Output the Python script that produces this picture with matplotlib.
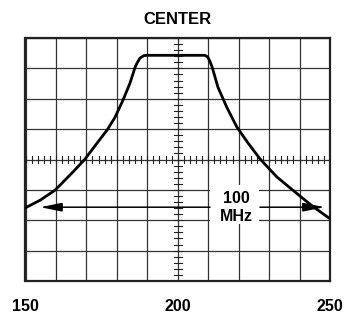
import numpy as np
import matplotlib
matplotlib.use("Agg")
import matplotlib.pyplot as plt
from matplotlib.patches import Rectangle

# frequency axis (MHz) and response in screen divisions (0 = bottom, 8 = top)
freq = [149.8, 154.8, 159.7, 165.6, 169.5, 173.5, 176.8, 179.4, 182.0, 184.3,
        186.0, 186.6, 187.6, 188.9, 189.9,
        200, 208.9, 209.8, 210.5, 211.3, 213.2, 216.1, 219.4, 223.1, 227.1,
        232.6, 240.1, 244.4, 250]
resp = [2.40, 2.66, 2.99, 3.59, 4.01, 4.54, 4.97, 5.39, 5.95, 6.51,
        7.04, 7.17, 7.34, 7.42, 7.43,
        7.43, 7.43, 7.38, 7.25, 7.04, 6.38, 5.72, 5.07, 4.54, 4.01,
        3.42, 2.80, 2.45, 2.05]

xlabels = ['150', '200', '250']
marker_text = '100\nMHz'
marker_level = 2.43

plt.rcParams['font.family'] = ['Liberation Sans', 'DejaVu Sans']

fig = plt.figure(figsize=(3.48, 3.14), dpi=100)
ax = fig.add_axes([25.5 / 348, 1 - 281 / 314, 304.5 / 348, 243 / 314])
ax.set_xlim(150, 250)
ax.set_ylim(0, 8)

# graticule
xt = np.arange(150, 251, 10)
ax.set_xticks(xt)
ax.set_xticklabels([str(v) if str(v) in xlabels else '' for v in xt],
                   fontsize=11.5, fontweight='bold')
ax.set_yticks(np.arange(0, 9, 1))
ax.set_yticklabels([])
ax.tick_params(length=0, pad=13)
ax.grid(True, color='#333333', linewidth=0.9)
ax.set_axisbelow(True)
for s in ax.spines.values():
    s.set_linewidth(1.6)
    s.set_color('#222222')

# minor ticks on centre lines
for yy in np.arange(0, 8.01, 0.2):
    ax.plot([200 - 1.3, 200 + 1.3], [yy, yy], color='#222222', lw=0.8, zorder=1)
for xx in np.arange(150, 250.01, 2):
    ax.plot([xx, xx], [4 - 0.13, 4 + 0.13], color='#222222', lw=0.8, zorder=1)

# response curve
ax.plot(freq, resp, color='black', lw=2.0, solid_capstyle='butt',
        solid_joinstyle='round', zorder=3)

# 100 MHz marker
astyle = '-|>,head_length=1.3,head_width=0.26'
ax.annotate('', xy=(154.8, marker_level), xytext=(210.6, marker_level),
            arrowprops=dict(arrowstyle=astyle, color='black', lw=1.1,
                            shrinkA=0, shrinkB=0), zorder=4)
ax.annotate('', xy=(248.3, marker_level), xytext=(227, marker_level),
            arrowprops=dict(arrowstyle=astyle, color='black', lw=1.1,
                            shrinkA=0, shrinkB=0), zorder=4)
ax.add_patch(Rectangle((210.6, 1.88), 16.2, 1.28, facecolor='white',
                       edgecolor='none', zorder=2.5))
ax.text(219.3, marker_level, marker_text, ha='center', va='center',
        fontsize=11.5, fontweight='bold', linespacing=1.25, zorder=5)

ax.set_title('CENTER', fontsize=12, fontweight='bold', pad=10)

fig.savefig('out.png', dpi=100)
